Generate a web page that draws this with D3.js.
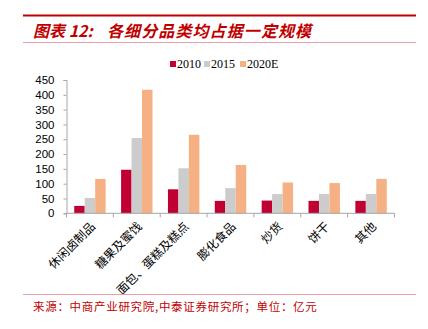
<!DOCTYPE html>
<html><head><meta charset="utf-8">
<script src="https://cdn.jsdelivr.net/npm/d3@7"></script>
<style>body{margin:0;background:#fff}svg{display:block}</style>
</head><body>
<script>
const categories = ["休闲卤制品","糖果及蜜饯","面包、蛋糕及糕点","膨化食品","炒货","饼干","其他"];
const seriesNames = ["2010","2015","2020E"];
const values2010 = [25,147,81,42,43,42,42];
const values2015 = [52,254,152,85,65,65,65];
const values2020E = [116,417,265,163,104,102,116];
const yTicks = [0,50,100,150,200,250,300,350,400,450];
const colors = ["#C00032","#CCCCCC","#F5B183"];

const W=428,H=329;
const svg=d3.select("body").append("svg").attr("width",W).attr("height",H);

// header
svg.append("line").attr("x1",23).attr("x2",416).attr("y1",15.5).attr("y2",15.5).attr("stroke","#C00000").attr("stroke-width",2);
const t=svg.append("text").attr("y",37).attr("fill","#C00000")
  .attr("font-family","Noto Sans CJK SC").attr("font-size",16).attr("font-weight","bold").attr("font-style","italic");
t.append("tspan").attr("x",33).text("图表 12:");
t.append("tspan").attr("x",107).attr("letter-spacing",1.1).text("各细分品类均占据一定规模");
svg.append("line").attr("x1",23).attr("x2",416).attr("y1",42.5).attr("y2",42.5).attr("stroke","#E8A0A8").attr("stroke-width",1);

const margin={left:66.5,right:394.5,top:80,bottom:213.3};
const x0=d3.scaleBand().domain(categories).range([margin.left,margin.right]).paddingInner(0.33).paddingOuter(0.165);
const x1=d3.scaleBand().domain(seriesNames).range([0,x0.bandwidth()]).padding(0);
const y=d3.scaleLinear().domain([0,450]).range([margin.bottom,margin.top]);
const data=[values2010,values2015,values2020E];

const g=svg.append("g");
categories.forEach((c,i)=>{
  seriesNames.forEach((s,j)=>{
    g.append("rect").attr("x",x0(c)+x1(s)).attr("width",x1.bandwidth())
      .attr("y",y(data[j][i])).attr("height",y(0)-y(data[j][i])).attr("fill",colors[j]);
  });
});

// y axis
const ya=svg.append("g").attr("transform",`translate(${margin.left},0)`)
  .call(d3.axisLeft(y).tickValues(yTicks).tickSize(3).tickPadding(9));
ya.select(".domain").attr("stroke","#A6A6A6");
ya.selectAll(".tick line").attr("stroke","#A6A6A6");
ya.selectAll("text").attr("font-family","Liberation Sans, Arial").attr("font-size",11.5).attr("fill","#000");

// x axis with boundary ticks
const xb=d3.scaleLinear().domain([0,categories.length]).range([margin.left,margin.right]);
const xa=svg.append("g").attr("transform",`translate(0,${margin.bottom})`);
xa.append("line").attr("x1",margin.left).attr("x2",margin.right).attr("stroke","#A6A6A6");
d3.range(categories.length+1).forEach(k=>{
  xa.append("line").attr("x1",xb(k)).attr("x2",xb(k)).attr("y1",0).attr("y2",4).attr("stroke","#A6A6A6");
});
categories.forEach(c=>{
  const cx=x0(c)+x0.bandwidth()/2;
  xa.append("text").attr("transform",`translate(${cx+3},11) rotate(-45)`)
    .attr("text-anchor","end").attr("font-family","Noto Sans CJK SC").attr("font-size",12).attr("fill","#000")
    .attr("dy","0.35em").text(c);
});

// legend
const legX=[170,204,240];
seriesNames.forEach((s,j)=>{
  svg.append("rect").attr("x",legX[j]).attr("y",61).attr("width",6).attr("height",6).attr("fill",colors[j]);
  svg.append("text").attr("x",legX[j]+7).attr("y",68).attr("font-family","Liberation Serif, Times New Roman").attr("font-size",12).attr("fill","#000").text(s);
});

// footer
svg.append("line").attr("x1",23).attr("x2",416).attr("y1",294.5).attr("y2",294.5).attr("stroke","#E8A0A8").attr("stroke-width",1);
svg.append("text").attr("x",33).attr("y",311).attr("fill","#C00000").attr("font-family","Noto Sans CJK SC").attr("font-size",11.5)
  .attr("letter-spacing",0.7).text("来源：中商产业研究院,中泰证券研究所；单位：亿元");
</script>
</body></html>
